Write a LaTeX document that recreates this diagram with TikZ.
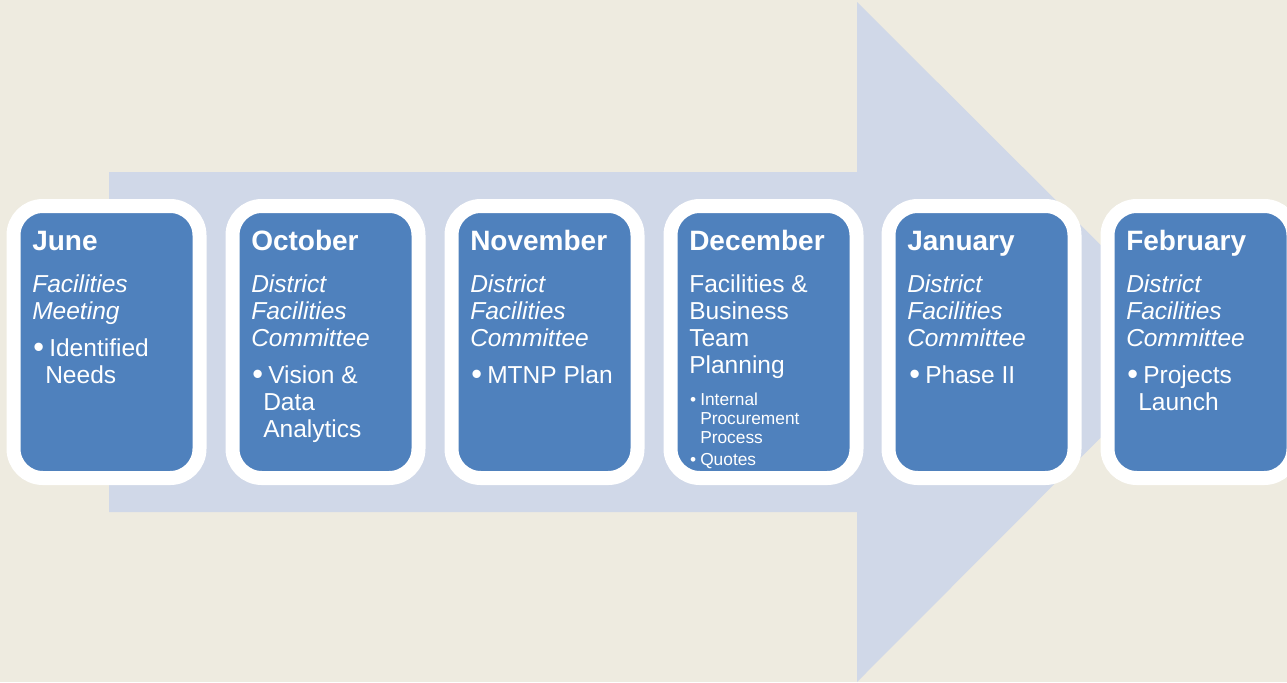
\documentclass[tikz,border=0pt]{standalone}
\usepackage{fontspec}
\setmainfont{Liberation Sans}
\definecolor{bgc}{HTML}{EEEBE0}
\definecolor{arrowc}{HTML}{D0D8E8}
\definecolor{boxc}{HTML}{4F81BD}
\newcommand\bul{\llap{\raisebox{-1.2pt}{\fontsize{23}{23}\selectfont•}\hspace{3.8pt}}}
\newcommand\sbul{\llap{•\hspace{3pt}}}
\begin{document}
\begin{tikzpicture}[x=0.75pt,y=-0.75pt,
  card/.style={fill=boxc, draw=white, line width=10.5pt, rounded corners=22pt,
    minimum width=139.5pt, minimum height=204pt, anchor=north west, inner sep=0pt, outer sep=0pt},
  txtbase/.style={anchor=base west, inner sep=0pt, text=white},
  hdtxt/.style={txtbase, font=\fontsize{21}{25}\selectfont\bfseries},
  ittxt/.style={txtbase, font=\fontsize{18.4}{22}\selectfont\itshape},
  rmtxt/.style={txtbase, font=\fontsize{18.4}{22}\selectfont},
  smtxt/.style={txtbase, font=\fontsize{13}{15}\selectfont}]
\clip (0,0) rectangle (1287,682);
\fill[bgc] (0,0) rectangle (1287,682);
% big arrow
\fill[arrowc] (109,172) -- (857,172) -- (857,2) -- (1197,341) -- (857,682) -- (857,512) -- (109,512) -- cycle;
% cards
\node[card] (c1) at (13.5,206) {};
\node[card] (c2) at (232.5,206) {};
\node[card] (c3) at (451.5,206) {};
\node[card] (c4) at (670.5,206) {};
\node[card] (c5) at (888.5,206) {};
\node[card] (c6) at (1107.5,206) {};
% June
\node[hdtxt] (h1) at (32,250) {June};
\node[ittxt] (a1) at (32,292) {Facilities};
\node[ittxt] (a2) at (32,319) {Meeting};
\node[rmtxt] (a3) at (49,356) {\bul Identified};
\node[rmtxt] (a4) at (45,383) {Needs};
% October
\node[hdtxt] (h2) at (251,250) {October};
\node[ittxt] (b1) at (251,292) {District};
\node[ittxt] (b2) at (251,319) {Facilities};
\node[ittxt] (b3) at (251,346) {Committee};
\node[rmtxt] (b4) at (268,383) {\bul Vision \&};
\node[rmtxt] (b5) at (263,410) {Data};
\node[rmtxt] (b6) at (263,437) {Analytics};
% November
\node[hdtxt] (h3) at (470,250) {November};
\node[ittxt] (d1) at (470,292) {District};
\node[ittxt] (d2) at (470,319) {Facilities};
\node[ittxt] (d3) at (470,346) {Committee};
\node[rmtxt] (d4) at (487,383) {\bul MTNP Plan};
% December
\node[hdtxt] (h4) at (689,250) {December};
\node[rmtxt] (e1) at (689,292) {Facilities \&};
\node[rmtxt] (e2) at (689,319) {Business};
\node[rmtxt] (e3) at (689,346) {Team};
\node[rmtxt] (e4) at (689,373) {Planning};
\node[smtxt] (e5) at (700,405) {\sbul Internal};
\node[smtxt] (e6) at (700,424) {Procurement};
\node[smtxt] (e7) at (700,443) {Process};
\node[smtxt] (e8) at (700,465) {\sbul Quotes};
% January
\node[hdtxt] (h5) at (907,250) {January};
\node[ittxt] (f1) at (907,292) {District};
\node[ittxt] (f2) at (907,319) {Facilities};
\node[ittxt] (f3) at (907,346) {Committee};
\node[rmtxt] (f4) at (925,383) {\bul Phase II};
% February
\node[hdtxt] (h6) at (1126,250) {February};
\node[ittxt] (g1) at (1126,292) {District};
\node[ittxt] (g2) at (1126,319) {Facilities};
\node[ittxt] (g3) at (1126,346) {Committee};
\node[rmtxt] (g4) at (1143,383) {\bul Projects};
\node[rmtxt] (g5) at (1138,410) {Launch};
\end{tikzpicture}
\end{document}
